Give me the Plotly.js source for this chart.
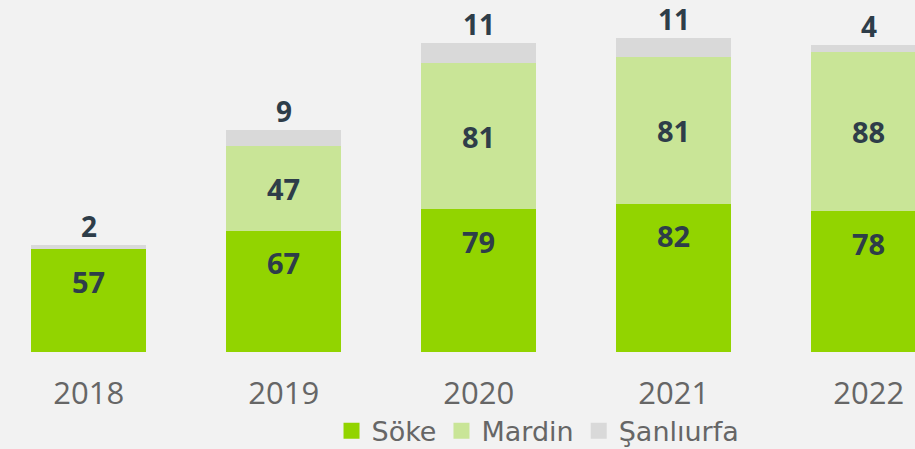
<!DOCTYPE html>
<html>
<head>
<meta charset="utf-8">
<script src="https://cdn.plot.ly/plotly-3.0.1.min.js"></script>
<style>html,body{margin:0;padding:0;background:#f2f2f2;}#chart{width:915px;height:449px;}</style>
</head>
<body>
<div id="chart"></div>
<script>
var years = ['2018', '2019', '2020', '2021', '2022'];
var soke = [57, 67, 79, 82, 78];
var mardin = [0, 47, 81, 81, 88];
var sanliurfa = [2, 9, 11, 11, 4];
var seriesNames = ['Söke', 'Mardin', 'Şanlıurfa'];
var colors = ['#92d400', '#c9e597', '#d9d9d9'];

var valueFont = {family: 'Open Sans, sans-serif', size: 29, color: '#2e3d49', weight: 700};
var topFont = {family: 'Open Sans, sans-serif', size: 28, color: '#2e3d49', weight: 700};
var traces = [soke, mardin, sanliurfa].map(function (vals, i) {
  return {type: 'bar', x: years, y: vals, name: seriesNames[i], marker: {color: colors[i]},
          showlegend: false, hoverinfo: 'skip'};
});
seriesNames.forEach(function (n, i) {
  traces.push({type: 'scatter', mode: 'markers', x: [null], y: [null], name: n,
               marker: {symbol: 'square', size: 16, color: colors[i]}, showlegend: true});
});

var ann = [];
years.forEach(function (yr, i) {
  ann.push({x: i, y: soke[i], text: String(soke[i]), showarrow: false, yanchor: 'middle', yshift: -32, font: valueFont, borderpad: 0});
  if (mardin[i] > 0) {
    ann.push({x: i, y: soke[i] + mardin[i] / 2, text: String(mardin[i]), showarrow: false, yanchor: 'middle', font: valueFont, borderpad: 0});
  }
  ann.push({x: i, y: soke[i] + mardin[i] + sanliurfa[i], text: String(sanliurfa[i]), showarrow: false, yanchor: 'middle', yshift: 19, font: topFont, borderpad: 0});
});

var layout = {
  width: 915, height: 449,
  margin: {l: 0, r: 0, t: 0, b: 97, autoexpand: false},
  paper_bgcolor: '#f2f2f2', plot_bgcolor: '#f2f2f2',
  barmode: 'stack', bargap: 0.41,
  xaxis: {type: 'category', range: [-0.455, 4.237], showgrid: false, zeroline: false, showline: false,
          ticks: '', ticklabelstandoff: 20, tickfont: {family: 'Open Sans, sans-serif', size: 31, color: '#666666'}},
  yaxis: {range: [0, 194.8], visible: false, showgrid: false, zeroline: false},
  legend: {orientation: 'h', traceorder: 'normal', x: 0.588, xanchor: 'center', y: -0.225, yanchor: 'middle',
           font: {family: 'DejaVu Sans, sans-serif', size: 27, color: '#666666'}, bgcolor: 'rgba(0,0,0,0)'},
  annotations: ann,
  showlegend: true
};
Plotly.newPlot('chart', traces, layout, {displayModeBar: false, staticPlot: true});
</script>
</body>
</html>
